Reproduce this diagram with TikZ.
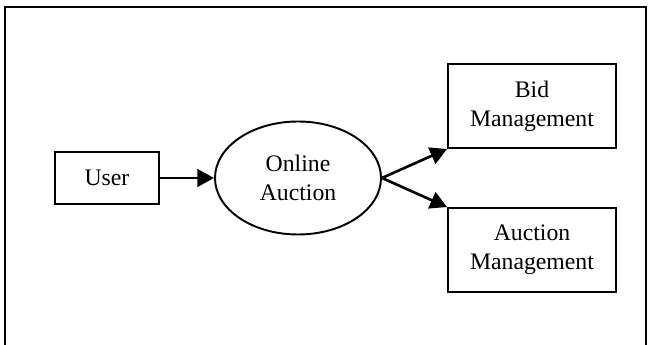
\documentclass[tikz,border=0pt]{standalone}
\usepackage{fontspec}
\setmainfont{Liberation Serif}
\usetikzlibrary{arrows.meta, positioning, shapes.geometric}

\begin{document}
\begin{tikzpicture}[
    box/.style={draw, line width=1.1pt, minimum width=2.08cm, minimum height=1.04cm,
      align=center, font=\fontsize{13.5}{16.5}\selectfont},
    mgmt/.style={box, minimum width=3.36cm, minimum height=1.68cm},
    proc/.style={draw, ellipse, line width=1.1pt, minimum width=3.32cm, minimum height=2.26cm,
      align=center, font=\fontsize{13.5}{16.5}\selectfont},
    flow/.style={-{Triangle[length=9.5pt, width=10pt]}, line width=1.5pt}]
  \useasboundingbox (0,0) rectangle (13.04,6.9);
  \clip (0,0) rectangle (13.04,6.9);

  % outer frame
  \draw[line width=1.1pt] (0.1,-0.5) -- (0.1,6.76) -- (12.92,6.76) -- (12.92,-0.5);

  % nodes
  \node[box] (user) at (2.14,3.34) {User};
  \node[proc] (auction) at (5.96,3.34) {Online\\Auction};
  \node[mgmt] (bid) at (10.64,4.78) {Bid\\Management};
  \node[mgmt] (amgmt) at (10.64,1.90) {Auction\\Management};

  % connectors
  \draw[flow] (user) -- (auction);
  \draw[flow] (auction.east) -- (bid.south west);
  \draw[flow] (auction.east) -- (amgmt.north west);
\end{tikzpicture}
\end{document}
